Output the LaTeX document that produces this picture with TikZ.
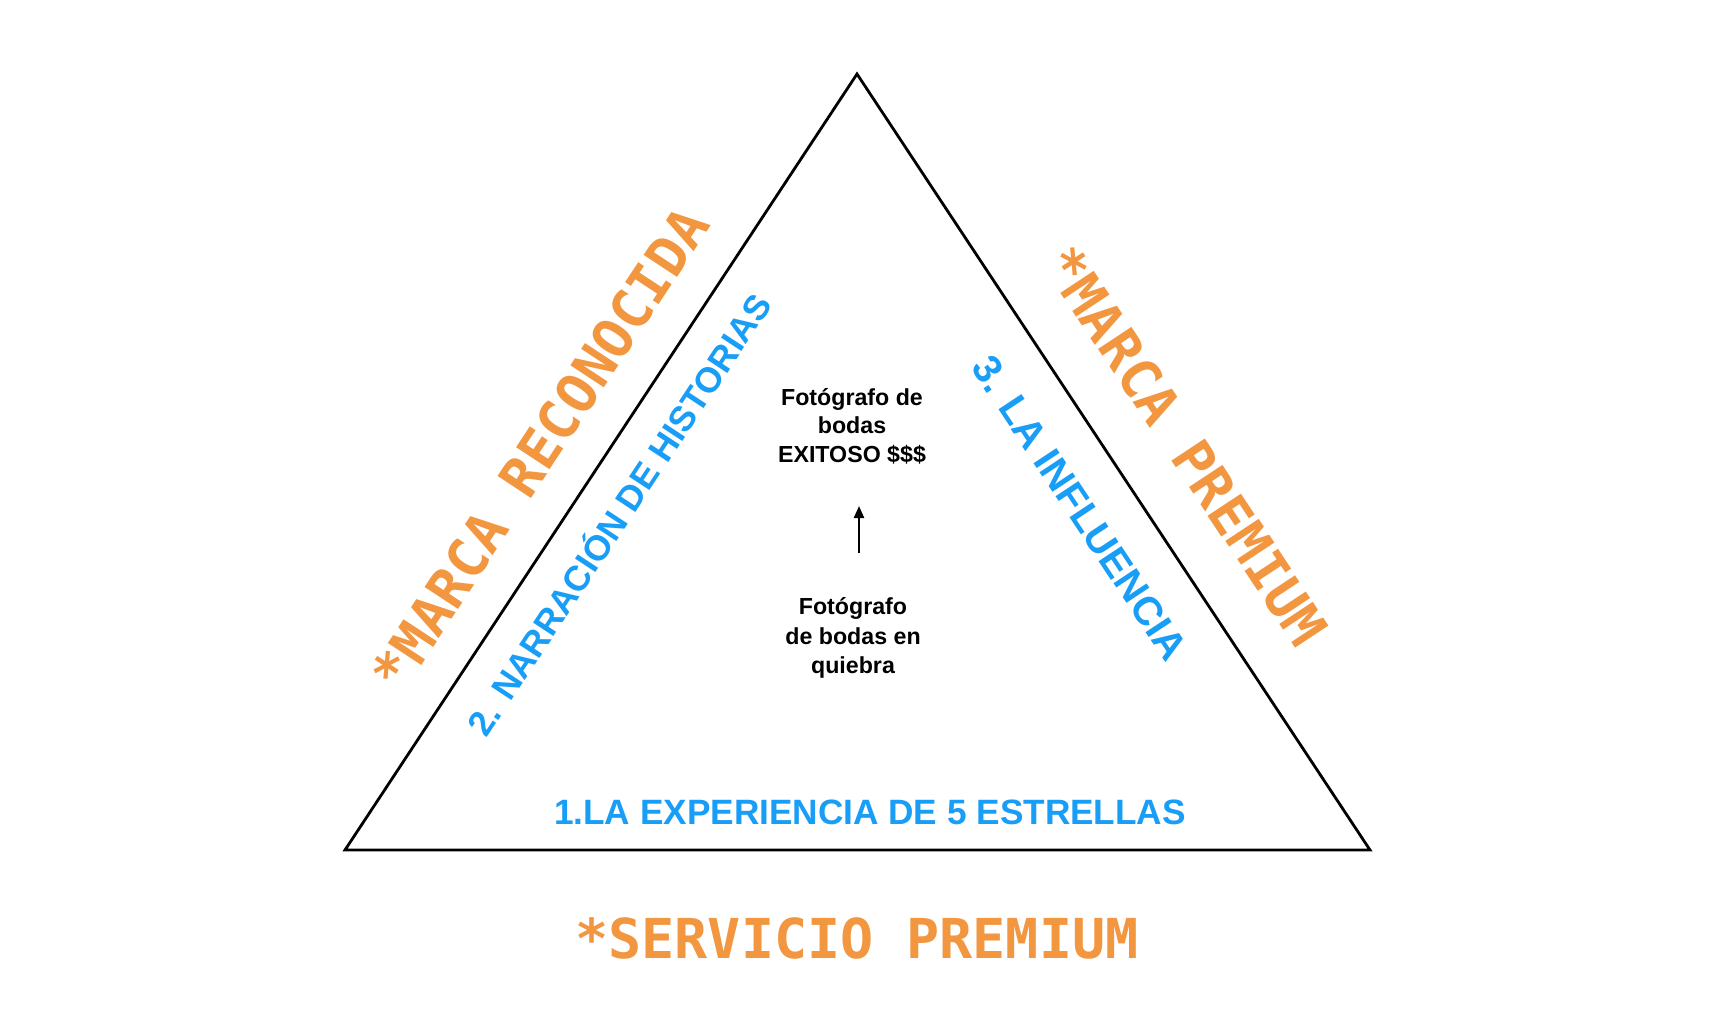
\documentclass[tikz,border=0pt]{standalone}
\usepackage{fontspec}
\setmainfont{Liberation Sans}
\newfontfamily\monob{DejaVu Sans Mono}
\usetikzlibrary{arrows.meta}
\definecolor{orng}{RGB}{242,150,64}
\definecolor{blu}{RGB}{25,158,248}
\tikzset{
  orangelbl/.style={text=orng, font=\monob\bfseries\fontsize{27.5}{30}\selectfont, inner sep=0pt},
  bluelbl/.style={text=blu, font=\bfseries, inner sep=0pt},
  blacklbl/.style={text=black, align=center, inner sep=0pt},
}
\begin{document}
\begin{tikzpicture}[x=0.5pt,y=-0.5pt]
\useasboundingbox (0,0) rectangle (1714,1028);
\fill[white] (0,0) rectangle (1714,1028);
% triangle
\coordinate (apex) at (857,74);
\coordinate (bl) at (345,850);
\coordinate (br) at (1370,850);
\draw[line width=1.4pt, line join=miter] (apex) -- (bl) -- (br) -- cycle;
% orange labels
\node[orangelbl, rotate=56.6] (mreco) at (540,449) {*MARCA RECONOCIDA};
\node[orangelbl, rotate=-56.5] (mprem) at (1186,446) {*MARCA PREMIUM};
\node[orangelbl] (serv) at (857,938) {*SERVICIO PREMIUM};
% blue labels
\node[bluelbl, rotate=56.6, font=\bfseries\fontsize{17.7}{20}\selectfont] (narr) at (617,513) {2. NARRACIÓN DE HISTORIAS};
\node[bluelbl, rotate=-56.5, font=\bfseries\fontsize{20}{22}\selectfont] (infl) at (1080,508) {3. LA INFLUENCIA};
\node[bluelbl, font=\bfseries\fontsize{17.6}{20}\selectfont] (exp) at (870,812) {1.LA EXPERIENCIA DE 5 ESTRELLAS};
% black labels
\node[blacklbl, font=\bfseries\fontsize{11.6}{14.2}\selectfont] (exito) at (852,426) {Fotógrafo de\\bodas\\EXITOSO \$\$\$};
\node[blacklbl, font=\bfseries\fontsize{11.6}{14.8}\selectfont] (quiebra) at (853,638) {Fotógrafo\\de bodas en\\quiebra};
% arrow
\coordinate (arrS) at (859,553);
\coordinate (arrE) at (859,506);
\draw[line width=1.1pt, -{Triangle[length=6pt,width=5pt]}] (arrS) -- (arrE);
\end{tikzpicture}
\end{document}
